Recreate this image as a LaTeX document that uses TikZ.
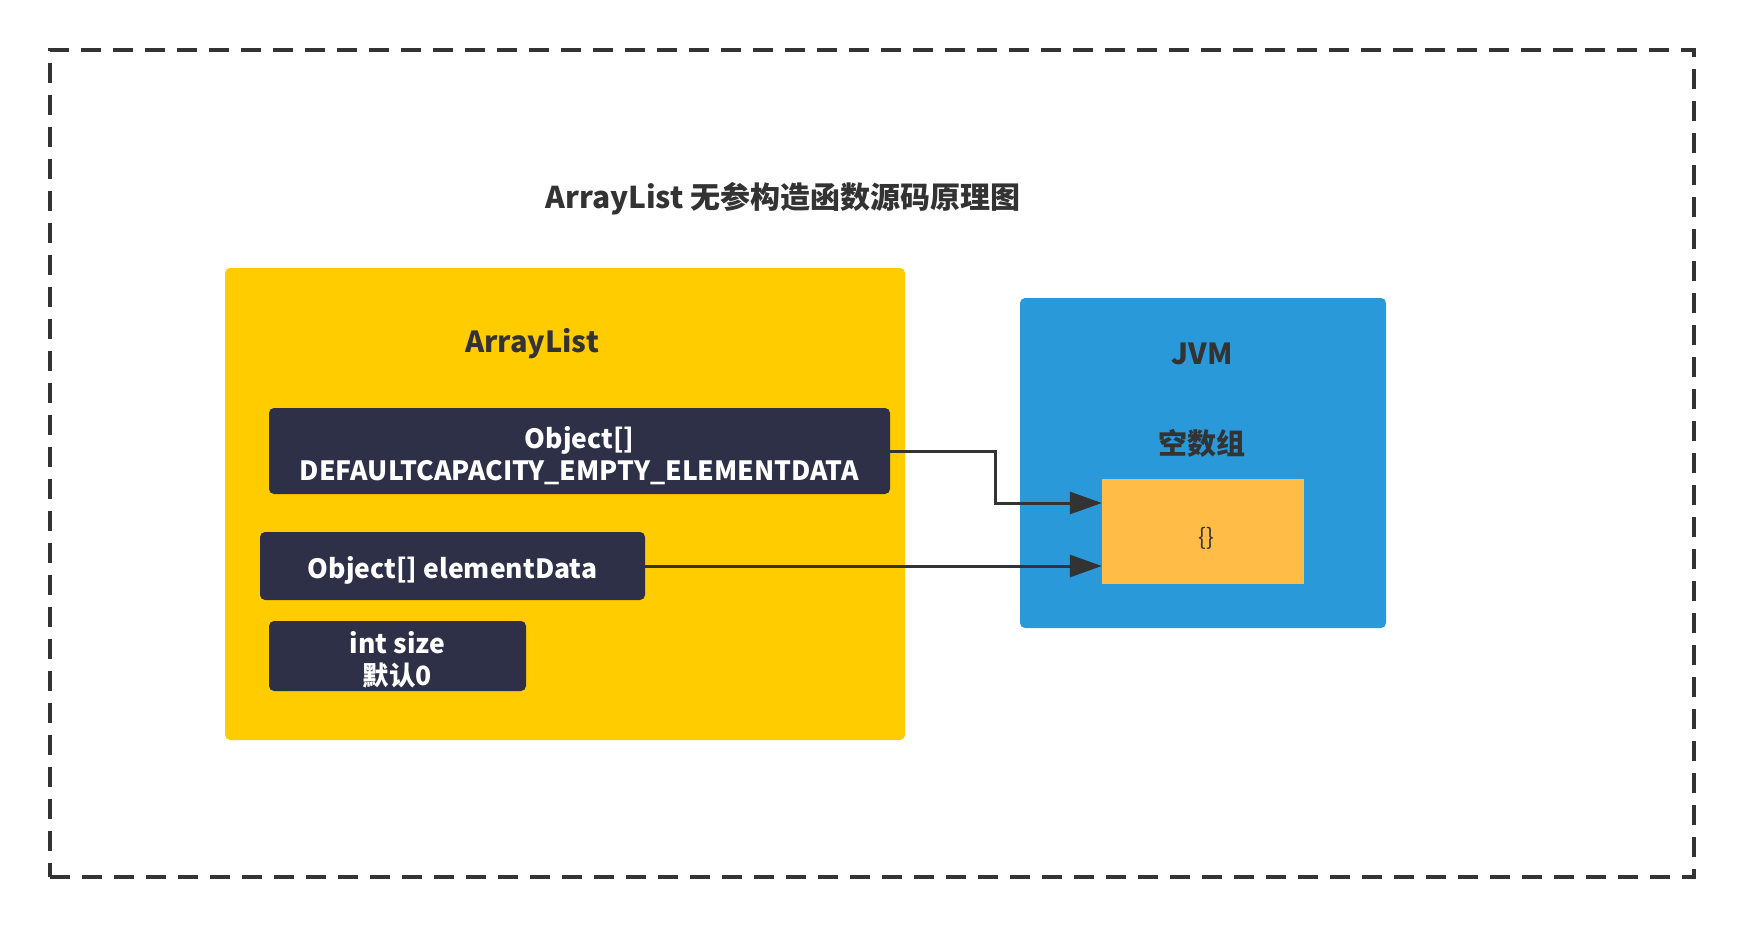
\documentclass[tikz,border=0pt]{standalone}
\usepackage{fontspec}
\setmainfont{Noto Sans CJK SC}
\usetikzlibrary{arrows.meta,calc}
\definecolor{ink}{HTML}{333333}
\definecolor{ylw}{HTML}{FFCC00}
\definecolor{navy}{HTML}{2E3047}
\definecolor{jblue}{HTML}{2A99DA}
\definecolor{org}{HTML}{FFBD48}
\tikzset{
  panel/.style={rectangle, rounded corners=5pt, inner sep=0pt},
  field/.style={rectangle, rounded corners=5pt, fill=navy, inner sep=0pt},
  fieldtxt/.style={inner sep=0pt, text=white, font=\bfseries\fontsize{26.5}{32}\selectfont, align=center},
  lbl/.style={text=ink, font=\bfseries\fontsize{29}{34}\selectfont, inner sep=0pt},
  arr/.style={draw=ink, line width=3pt, -{Triangle[length=32pt,width=22pt]}},
}
\begin{document}
\begin{tikzpicture}[x=1pt,y=-1pt]
\useasboundingbox[fill=white] (0,0) rectangle (1744,928);
\node[draw=ink, line width=4pt, dash pattern=on 20pt off 12pt, rectangle, minimum width=1644pt, minimum height=827pt, inner sep=0pt] (frame) at (872,463.5) {};
\node[lbl, font=\bfseries\fontsize{30}{34}\selectfont] (title) at (783,199) {ArrayList 无参构造函数源码原理图};
\node[panel, fill=ylw, minimum width=680pt, minimum height=472pt] (al) at (565,504) {};
\node[lbl] (allbl) at (532,344) {ArrayList};
\node[field, minimum width=621pt, minimum height=86pt] (def) at (579.5,451) {};
\node[fieldtxt] (deftxt) at ([yshift=-5pt]def.center) {Object[]\\DEFAULTCAPACITY\_EMPTY\_ELEMENTDATA};
\node[field, minimum width=385pt, minimum height=68pt] (ed) at (452.5,566) {};
\node[fieldtxt] (edtxt) at ([yshift=-4.5pt]ed.center) {Object[] elementData};
\node[field, minimum width=257pt, minimum height=70pt] (sz) at (397.5,656) {};
\node[fieldtxt] (sztxt) at ([yshift=-4pt]sz.center) {int size\\默认0};
\node[panel, fill=jblue, minimum width=366pt, minimum height=330pt] (jvm) at (1203,463) {};
\node[lbl] (jvmlbl) at (1202,354) {JVM};
\node[lbl] (empty) at (1202,443) {空数组};
\node[rectangle, fill=org, minimum width=202pt, minimum height=105pt, inner sep=0pt] (arrbox) at (1203,531.5) {};
\node[text=ink, font=\fontsize{23}{26}\selectfont, inner sep=0pt] (brace) at (1206,538) {\{\}};
\coordinate (bend) at (995,503);
\draw[arr] (def.east) -| (bend) -- (arrbox.west |- bend);
\draw[arr] (ed.east) -- (arrbox.west |- ed.east);
\end{tikzpicture}
\end{document}
